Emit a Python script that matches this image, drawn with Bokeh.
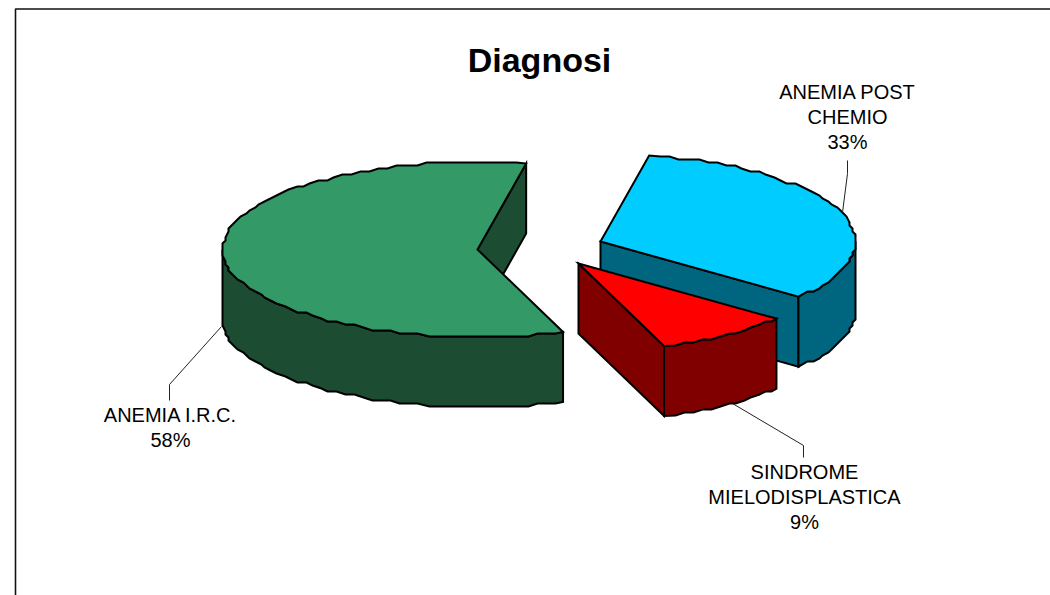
import numpy as np
from bokeh.plotting import figure
from bokeh.models import Range1d
from bokeh.core.properties import value
from bokeh.embed import file_html
from bokeh.resources import INLINE

# ---- data
categories = ["ANEMIA POST CHEMIO", "SINDROME MIELODISPLASTICA", "ANEMIA I.R.C."]
label_lines = [["ANEMIA POST", "CHEMIO"], ["SINDROME", "MIELODISPLASTICA"], ["ANEMIA I.R.C."]]
shares = [32.8, 8.7, 58.5]
share_labels = ["33%", "9%", "58%"]

# ---- styling and layout (page pixels)
top_colors = ["#00ccff", "#ff0000", "#339966"]
side_colors = ["#006680", "#800000", "#1c4d33"]
apexes = [(600, 241), (578, 263), (477, 249)]
RX, RY, DEPTH = 255, 87.5, 70
START_DEG = 79
label_anchor = [(847, 91), (804, 471), (170, 414)]
LINE_H = 25
leaders = [([842, 847, 847], [212, 173, 160]),
           ([732, 803, 803], [403, 445, 457]),
           ([221, 169, 169], [326, 384, 400])]
GRID = 3.0
STEP = 10.0 / RX
FONT = value("Liberation Sans")

p = figure(width=1050, height=595, x_range=Range1d(0, 1050), y_range=Range1d(595, 0),
           output_backend="svg", toolbar_location=None, min_border=0)
p.axis.visible = False
p.grid.visible = False
p.outline_line_color = None
p.background_fill_color = "white"
p.border_fill_color = "white"

# frame of the chart area: top and left edges only
p.line([15, 15, 1050], [595, 8.5, 8.5], line_color="#111111", line_width=1.6)


def arc(cx, cy, t0, t1):
    """Outer edge of a slice (t0 > t1), as the coarse polygon the reference shows.
    Vertices sit on one common angular grid so top and wall outlines coincide."""
    k = np.arange(np.floor(t0 / STEP), np.ceil(t1 / STEP), -1) * STEP
    k = k[(k < t0 - STEP / 3) & (k > t1 + STEP / 3)]
    xm = np.round((cx + RX * np.cos(k)) / GRID) * GRID
    ym = np.round((cy - RY * np.sin(k)) / GRID) * GRID
    x = np.r_[cx + RX * np.cos(t0), xm, cx + RX * np.cos(t1)]
    y = np.r_[cy - RY * np.sin(t0), ym, cy - RY * np.sin(t1)]
    return x, y


def face(px, py, fill):
    p.patch(list(px), list(py), fill_color=fill, line_color="black", line_width=2, line_join="miter")


# slice angles follow from the shares, clockwise from the start angle
angles = [np.radians(START_DEG)]
for s in shares:
    angles.append(angles[-1] - s / 100 * 2 * np.pi)

# green goes first, the exploded front slices over it
for i in [2, 0, 1]:
    cx, cy = apexes[i]
    a0, a1 = angles[i], angles[i + 1]
    # cut face that looks toward the viewer
    ex, ey = cx + RX * np.cos(a1), cy - RY * np.sin(a1)
    face([cx, ex, ex, cx], [cy, ey, ey + DEPTH, cy + DEPTH], side_colors[i])
    # outer wall: only the part of the rim in front of the centre
    ax, ay = arc(cx, cy, min(a0, 0.0), max(a1, -np.pi))
    face(np.r_[ax, ax[::-1]], np.r_[ay, ay[::-1] + DEPTH], side_colors[i])
    # top surface
    ax, ay = arc(cx, cy, a0, a1)
    face(np.r_[cx, ax], np.r_[cy, ay], top_colors[i])

# leader lines
for lx, ly in leaders:
    p.line(lx, ly, line_color="#222222", line_width=1)

# labels
for i, lines in enumerate(label_lines):
    x, y = label_anchor[i]
    rows = lines + [share_labels[i]]
    p.text([x] * len(rows), [y + k * LINE_H for k in range(len(rows))], text=rows,
           text_font=FONT, text_font_size="20px", text_align="center",
           text_baseline="alphabetic", text_color="black")

p.text([539], [59], text=["Diagnosi"], text_font=FONT, text_font_size="34px",
       text_font_style="bold", text_align="center", text_baseline="alphabetic", text_color="black")

open("out.html", "w").write(file_html(p, INLINE))
